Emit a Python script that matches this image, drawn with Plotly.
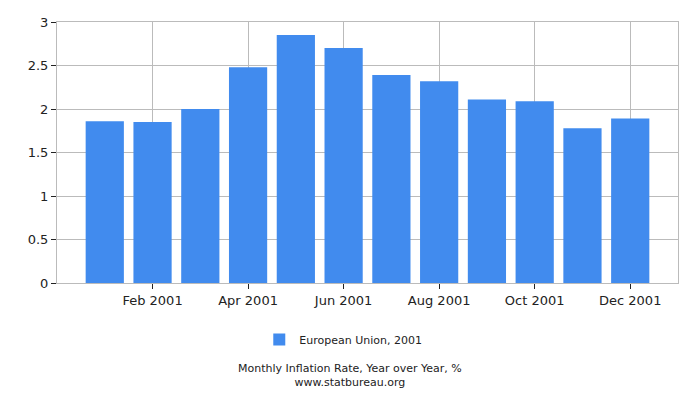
import plotly.graph_objects as go

months = ["Jan 2001", "Feb 2001", "Mar 2001", "Apr 2001", "May 2001", "Jun 2001",
          "Jul 2001", "Aug 2001", "Sep 2001", "Oct 2001", "Nov 2001", "Dec 2001"]
inflation = [1.86, 1.85, 2.0, 2.48, 2.85, 2.7, 2.39, 2.32, 2.11, 2.09, 1.78, 1.89]
series_name = "European Union, 2001"
caption = "Monthly Inflation Rate, Year over Year, %<br>www.statbureau.org"

# bars sit on an even month grid; every second month is labelled
idx = list(range(len(months)))
tick_idx = idx[1::2]
tick_text = months[1::2]

fig = go.Figure()
fig.add_trace(go.Bar(
    x=idx,
    y=inflation,
    name=series_name,
    marker=dict(color="#418bee", line=dict(width=0)),
    width=0.8,
    showlegend=True,
    hovertext=months,
))

grid = "#bbbbbb"
fig.update_layout(
    width=700,
    height=400,
    margin=dict(l=57, r=22, t=22, b=117),
    paper_bgcolor="white",
    plot_bgcolor="white",
    font=dict(family="DejaVu Sans", size=13, color="#222"),
    showlegend=True,
    legend=dict(
        orientation="h",
        x=0.461, xanchor="center",
        y=-0.216, yanchor="middle",
        font=dict(size=11),
    ),
    xaxis=dict(
        range=[-1, 12],
        tickvals=tick_idx,
        ticktext=tick_text,
        ticks="outside",
        ticklen=5,
        tickcolor="#222",
        showgrid=True,
        gridcolor=grid,
        showline=True,
        linecolor=grid,
        mirror=True,
        zeroline=False,
    ),
    yaxis=dict(
        range=[0, 3],
        dtick=0.5,
        tickformat="~g",
        ticks="outside",
        ticklen=5,
        tickcolor="#222",
        showgrid=True,
        gridcolor=grid,
        showline=True,
        linecolor=grid,
        mirror=True,
        zeroline=False,
    ),
)

fig.add_annotation(text=caption, x=0.472, xref="paper", xanchor="center",
                   y=-0.356, yref="paper", yanchor="middle",
                   showarrow=False, align="center", font=dict(size=11))

fig.write_html("out.html", config={"displayModeBar": False},
               post_script="document.body.style.margin='0';")
